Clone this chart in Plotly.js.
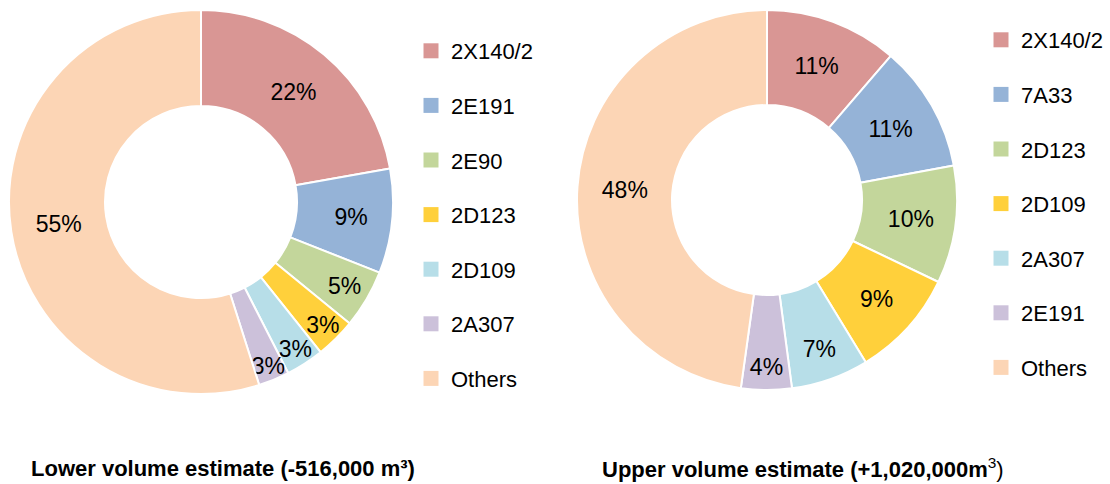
<!DOCTYPE html>
<html>
<head>
<meta charset="utf-8">
<script src="https://cdn.plot.ly/plotly-3.0.1.min.js"></script>
<style>html,body{margin:0;padding:0;background:#fff;}#chart{width:1110px;height:484px;}</style>
</head>
<body>
<div id="chart"></div>
<script>
// Lower volume estimate
const lowerLabels = ["2X140/2", "2E191", "2E90", "2D123", "2D109", "2A307", "Others"];
const lowerValues = [22.2, 8.8, 4.9, 3.4, 3.2, 2.6, 54.9];
const lowerColors = ["#D99694", "#95B3D7", "#C3D69B", "#FFD03B", "#B7DEE8", "#CCC1DA", "#FCD5B5"];
const lowerTitle = "<b>Lower volume estimate (-516,000 m³)</b>";

// Upper volume estimate
const upperLabels = ["2X140/2", "7A33", "2D123", "2D109", "2A307", "2E191", "Others"];
const upperValues = [11.3, 10.8, 10.0, 9.2, 6.6, 4.3, 47.8];
const upperColors = ["#D99694", "#95B3D7", "#C3D69B", "#FFD03B", "#B7DEE8", "#CCC1DA", "#FCD5B5"];
const upperTitle = "<b>Upper volume estimate (+1,020,000m</b><sup>3</sup>)";

const FONT = "Arial, 'Liberation Sans', sans-serif";

function pieTrace(labels, values, colors, domain) {
  return {
    type: "pie", labels: labels, values: values, sort: false, direction: "clockwise", rotation: 0,
    hole: 0.5, domain: domain, showlegend: false,
    marker: {colors: colors, line: {color: "#ffffff", width: 2}},
    textinfo: "percent", texttemplate: "%{percent:.0%}", textposition: "inside",
    insidetextorientation: "horizontal",
    textfont: {family: FONT, size: 23, color: "#000000"}
  };
}

function legendTraces(labels, colors, legendId) {
  return labels.map((lab, i) => ({
    type: "scatter", mode: "markers", x: [null], y: [null], name: lab,
    legend: legendId, legendgroup: legendId + "_" + i, showlegend: true,
    marker: {symbol: "square", size: 15, color: colors[i]}, hoverinfo: "skip"
  }));
}

const data = [
  pieTrace(lowerLabels, lowerValues, lowerColors, {x: [9/1110, 393/1110], y: [1 - 394/484, 1 - 10/484]}),
  pieTrace(upperLabels, upperValues, upperColors, {x: [577/1110, 957/1110], y: [1 - 390/484, 1 - 10/484]})
].concat(legendTraces(lowerLabels, lowerColors, "legend"), legendTraces(upperLabels, upperColors, "legend2"));

const legendBase = {
  font: {family: FONT, size: 22, color: "#000000"}, tracegroupgap: 23, bgcolor: "rgba(0,0,0,0)",
  yanchor: "top", xanchor: "left", traceorder: "grouped", itemclick: false
};

const layout = {
  width: 1110, height: 484, margin: {l: 0, r: 0, t: 0, b: 0},
  paper_bgcolor: "#ffffff", plot_bgcolor: "#ffffff",
  font: {family: FONT, color: "#000000"},
  xaxis: {visible: false}, yaxis: {visible: false},
  uniformtext: {minsize: 23, mode: "show"},
  legend: Object.assign({}, legendBase, {x: 411/1110, y: 1 - 30/484}),
  legend2: Object.assign({}, legendBase, {x: 981/1110, y: 1 - 19/484}),
  annotations: [
    {text: lowerTitle, x: 223/1110, y: 1 - 468/484, xref: "paper", yref: "paper", showarrow: false,
     font: {family: FONT, size: 22, color: "#000000"}, xanchor: "center", yanchor: "middle"},
    {text: upperTitle, x: 803/1110, y: 1 - 468/484, xref: "paper", yref: "paper", showarrow: false,
     font: {family: FONT, size: 22, color: "#000000"}, xanchor: "center", yanchor: "middle"}
  ]
};

Plotly.newPlot("chart", data, layout, {staticPlot: true, displayModeBar: false});
</script>
</body>
</html>
